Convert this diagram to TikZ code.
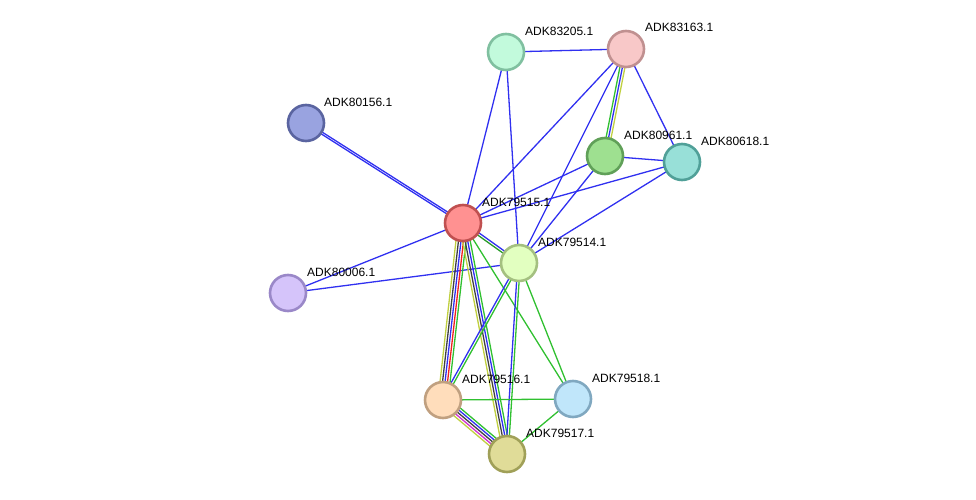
\documentclass[tikz,border=0pt]{standalone}
\usepackage{fontspec}
\setmainfont{Liberation Sans}
\usetikzlibrary{calc}
\pgfdeclarelayer{bg}
\pgfsetlayers{bg,main}
\definecolor{eblue}{HTML}{3030F0}
\definecolor{egreen}{HTML}{30C030}
\definecolor{eyellow}{HTML}{C0D040}
\definecolor{eblack}{HTML}{404040}
\definecolor{ered}{HTML}{F02020}
\definecolor{emag}{HTML}{D030D0}
\tikzset{
  prot/.style={circle,minimum size=36pt,inner sep=0pt,line width=2.6pt},
  lab/.style={anchor=west,font=\fontsize{12pt}{14pt}\selectfont,inner sep=0pt},
  edge/.style={line width=1.3pt}
}
\newcommand\ed[4]{\draw[edge,#2] ($(#3)!#1!90:(#4)$) -- ($(#4)!#1!-90:(#3)$);}
\begin{document}
\begin{tikzpicture}[x=1pt,y=-1pt]
\useasboundingbox (0,0) rectangle (976,500);
\node[prot,fill={rgb,255:red,255;green,145;blue,145},draw={rgb,255:red,192;green,80;blue,80}] (n15) at (463,223) {};
\node[prot,fill={rgb,255:red,226;green,255;blue,192},draw={rgb,255:red,164;green,192;blue,128}] (n14) at (519,263) {};
\node[prot,fill={rgb,255:red,213;green,196;blue,250},draw={rgb,255:red,154;green,136;blue,200}] (n06) at (288,293) {};
\node[prot,fill={rgb,255:red,153;green,163;blue,224},draw={rgb,255:red,90;green,100;blue,160}] (n56) at (306,123) {};
\node[prot,fill={rgb,255:red,194;green,250;blue,220},draw={rgb,255:red,128;green,192;blue,160}] (n05) at (506,52) {};
\node[prot,fill={rgb,255:red,248;green,200;blue,200},draw={rgb,255:red,192;green,144;blue,144}] (n63) at (626,49) {};
\node[prot,fill={rgb,255:red,158;green,224;blue,144},draw={rgb,255:red,96;green,160;blue,88}] (n61) at (605,156) {};
\node[prot,fill={rgb,255:red,152;green,224;blue,216},draw={rgb,255:red,80;green,160;blue,152}] (n18) at (682,162) {};
\node[prot,fill={rgb,255:red,255;green,221;blue,187},draw={rgb,255:red,192;green,160;blue,128}] (n16) at (443,400) {};
\node[prot,fill={rgb,255:red,192;green,230;blue,250},draw={rgb,255:red,128;green,168;blue,192}] (n8) at (573,399) {};
\node[prot,fill={rgb,255:red,224;green,220;blue,152},draw={rgb,255:red,160;green,160;blue,88}] (n17) at (507,454) {};
\node[lab] (l15) at (482,202) {ADK79515.1};
\node[lab] (l14) at (538,242) {ADK79514.1};
\node[lab] (l06) at (307,272) {ADK80006.1};
\node[lab] (l56) at (324,102) {ADK80156.1};
\node[lab] (l05) at (525,31) {ADK83205.1};
\node[lab] (l63) at (645,27) {ADK83163.1};
\node[lab] (l61) at (624,135) {ADK80961.1};
\node[lab] (l18) at (701,141) {ADK80618.1};
\node[lab] (l16) at (462,379) {ADK79516.1};
\node[lab] (l8) at (592,378) {ADK79518.1};
\node[lab] (l17) at (526,433) {ADK79517.1};
\begin{pgfonlayer}{bg}
\ed{1pt}{eblue}{n56}{n15}
\ed{-1pt}{eblue}{n56}{n15}
\ed{0pt}{eblue}{n06}{n15}
\ed{0pt}{eblue}{n06}{n14}
\ed{0pt}{eblue}{n05}{n15}
\ed{0pt}{eblue}{n05}{n14}
\ed{0pt}{eblue}{n05}{n63}
\ed{0pt}{eblue}{n63}{n15}
\ed{0pt}{eblue}{n63}{n14}
\ed{0pt}{eblue}{n63}{n18}
\ed{-2.5pt}{egreen}{n63}{n61}
\ed{0pt}{eblue}{n63}{n61}
\ed{2.5pt}{eyellow}{n63}{n61}
\ed{0pt}{eblue}{n61}{n18}
\ed{0pt}{eblue}{n61}{n15}
\ed{0pt}{eblue}{n61}{n14}
\ed{0pt}{eblue}{n18}{n15}
\ed{0pt}{eblue}{n18}{n14}
\ed{1.25pt}{eblue}{n15}{n14}
\ed{-1.25pt}{egreen!80!black}{n15}{n14}
\ed{-5pt}{eyellow}{n15}{n16}
\ed{-2.5pt}{eblack}{n15}{n16}
\ed{0pt}{eblue}{n15}{n16}
\ed{2.5pt}{ered}{n15}{n16}
\ed{5pt}{egreen}{n15}{n16}
\ed{-3.75pt}{eyellow}{n15}{n17}
\ed{-1.25pt}{eblack}{n15}{n17}
\ed{1.25pt}{eblue}{n15}{n17}
\ed{3.75pt}{egreen}{n15}{n17}
\ed{0pt}{egreen}{n15}{n8}
\ed{-1.25pt}{eblue}{n14}{n16}
\ed{1.25pt}{egreen}{n14}{n16}
\ed{-1.25pt}{eblue}{n14}{n17}
\ed{1.25pt}{egreen}{n14}{n17}
\ed{0pt}{egreen}{n14}{n8}
\ed{0pt}{egreen}{n16}{n8}
\ed{5pt}{egreen}{n16}{n17}
\ed{2.5pt}{eblue}{n16}{n17}
\ed{0pt}{eblack}{n16}{n17}
\ed{-2.5pt}{emag}{n16}{n17}
\ed{-5pt}{eyellow}{n16}{n17}
\ed{0pt}{egreen}{n17}{n8}
\end{pgfonlayer}
\end{tikzpicture}
\end{document}
